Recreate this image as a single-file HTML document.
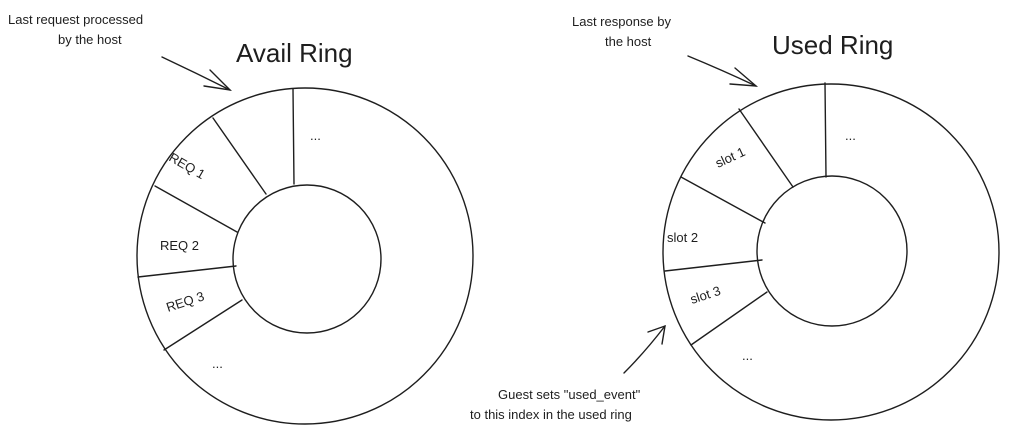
<!DOCTYPE html>
<html><head><style>
body{margin:0;background:#fff;}
text{font-family:"Comic Sans MS","Liberation Sans",sans-serif;fill:#1e1e1e;}
</style></head><body>
<svg width="1010" height="438" viewBox="0 0 1010 438" xmlns="http://www.w3.org/2000/svg">
<g fill="none" stroke="#1e1e1e" stroke-width="1.4" stroke-linecap="round">
<circle cx="305" cy="256" r="168"/>
<circle cx="307" cy="259" r="74"/>
<line x1="293" y1="89" x2="294" y2="184"/>
<line x1="213" y1="118" x2="266" y2="194"/>
<line x1="155" y1="186" x2="237" y2="232"/>
<line x1="138" y1="277" x2="236" y2="266"/>
<line x1="164" y1="350" x2="242" y2="300"/>
<circle cx="831" cy="252" r="168"/>
<circle cx="832" cy="251" r="75"/>
<line x1="825" y1="83" x2="826" y2="177"/>
<line x1="739" y1="109" x2="793" y2="187"/>
<line x1="681" y1="177" x2="765" y2="223"/>
<line x1="665" y1="271" x2="762" y2="260"/>
<line x1="691" y1="345" x2="767" y2="292"/>
<path d="M162 57 Q196 73 230 90"/>
<path d="M210 70 L230 90 L204 86"/>
<path d="M688 56 Q722 70 756 86"/>
<path d="M735 68 L756 86 L730 84"/>
<path d="M624 373 Q645 352 665 326"/>
<path d="M648 332 L665 326 L662 344"/>
</g>
<g font-size="13">
<text x="8" y="24">Last request processed</text>
<text x="58" y="44">by the host</text>
<text x="572" y="26">Last response by</text>
<text x="605" y="46">the host</text>
<text x="498" y="399">Guest sets "used_event"</text>
<text x="470" y="419">to this index in the used ring</text>
<text x="310" y="140">...</text>
<text x="212" y="368">...</text>
<text x="845" y="140">...</text>
<text x="742" y="360">...</text>
<text x="160" y="250">REQ 2</text>
<text x="667" y="242">slot 2</text>
<text transform="translate(168,160) rotate(30)">REQ 1</text>
<text transform="translate(168,312) rotate(-18)">REQ 3</text>
<text transform="translate(718,168) rotate(-25)">slot 1</text>
<text transform="translate(692,304) rotate(-18)">slot 3</text>
</g>
<g font-size="26">
<text x="236" y="62">Avail Ring</text>
<text x="772" y="54">Used Ring</text>
</g>
</svg>
</body></html>
